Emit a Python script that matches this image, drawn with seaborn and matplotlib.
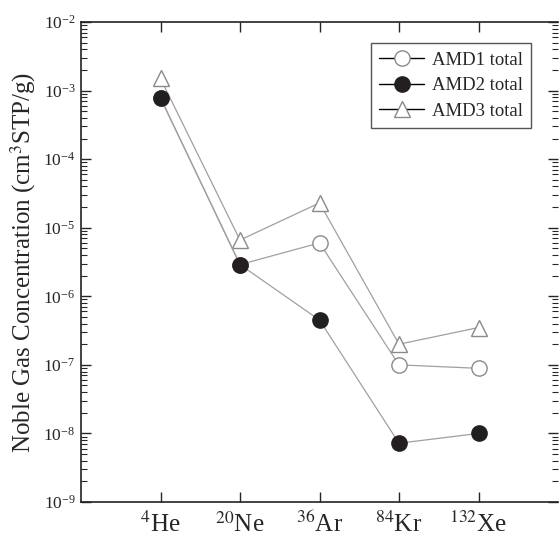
import matplotlib
matplotlib.use("Agg")
import matplotlib.pyplot as plt
from matplotlib.lines import Line2D
from matplotlib.ticker import LogLocator, NullFormatter, FixedLocator
import numpy as np
import seaborn as sns

# Noble gas concentrations (cm3 STP/g)
GASES = ["$^{4}$He", "$^{20}$Ne", "$^{36}$Ar", "$^{84}$Kr", "$^{132}$Xe"]
POS = [1, 2, 3, 4, 5]
AMD1 = [7.8e-4, 2.9e-6, 6.0e-6, 1.0e-7, 8.9e-8]
AMD2 = [7.8e-4, 2.9e-6, 4.5e-7, 7.2e-9, 1.0e-8]
AMD3 = [1.5e-3, 6.6e-6, 2.3e-5, 2.0e-7, 3.5e-7]
LABELS = ["AMD1 total", "AMD2 total", "AMD3 total"]

sns.set_style("ticks")
plt.rcParams["font.family"] = ["Liberation Serif", "DejaVu Serif"]
plt.rcParams["mathtext.fontset"] = "stix"

W, H = 559, 539
fig = plt.figure(figsize=(W / 100, H / 100), dpi=100)
ax = fig.add_axes([81 / W, (H - 502) / H, 477 / W, 480 / H])

line_c = "#a0a0a0"
ms = 11
sns.lineplot(x=POS, y=AMD1, ax=ax, color=line_c, lw=0.9, marker="o", ms=ms,
             mfc="white", mec="#8a8a8a", mew=1.0, zorder=2)
sns.lineplot(x=POS, y=AMD2, ax=ax, color=line_c, lw=0.9, marker="o", ms=ms,
             mfc="#231f20", mec="#231f20", mew=1.0, zorder=3)
sns.lineplot(x=POS, y=AMD3, ax=ax, color=line_c, lw=0.9, marker="^", ms=ms + 1,
             mfc="white", mec="#8a8a8a", mew=1.0, zorder=2)

ax.set_yscale("log")
ax.set_ylim(1e-9, 1e-2)
ax.set_xlim(0, 6)
ax.xaxis.set_major_locator(FixedLocator(POS))
ax.set_xticklabels(GASES, fontsize=18)
ax.yaxis.set_major_locator(LogLocator(base=10, numticks=10))
ax.yaxis.set_minor_locator(LogLocator(base=10, subs=np.arange(2, 10), numticks=20))
ax.yaxis.set_minor_formatter(NullFormatter())
ax.tick_params(axis="y", which="major", labelsize=12.5, direction="in",
               length=7, width=1.0, right=True, pad=4)
ax.tick_params(axis="y", which="minor", direction="in", length=4, width=0.8, right=True)
ax.tick_params(axis="x", which="major", direction="in", length=7, width=1.0,
               top=True, pad=7)
ax.tick_params(axis="x", which="minor", bottom=False, top=False)

for s in ["left", "bottom", "top"]:
    ax.spines[s].set_linewidth(1.2)
    ax.spines[s].set_color("#222222")
ax.spines["right"].set_visible(False)

ax.set_ylabel("Noble Gas Concentration (cm$^{3}$STP/g)", fontsize=18)
ax.yaxis.set_label_coords(-0.09, 0.5)

handles = [
    Line2D([], [], color="black", lw=1.0, marker="o", ms=ms, mfc="white", mec="#8a8a8a"),
    Line2D([], [], color="black", lw=1.0, marker="o", ms=ms, mfc="#231f20", mec="#231f20"),
    Line2D([], [], color="black", lw=1.0, marker="^", ms=ms + 1, mfc="white", mec="#8a8a8a"),
]
leg = ax.legend(handles, LABELS, loc="upper right", bbox_to_anchor=(531 / W, (H - 43) / H),
                bbox_transform=fig.transFigure, fontsize=13.5, frameon=True, fancybox=False,
                edgecolor="#555555", framealpha=1, handlelength=2.4, borderpad=0.45,
                labelspacing=0.45, handletextpad=0.4, borderaxespad=0)
leg.get_frame().set_linewidth(1.0)

fig.savefig("out.png", dpi=100)
